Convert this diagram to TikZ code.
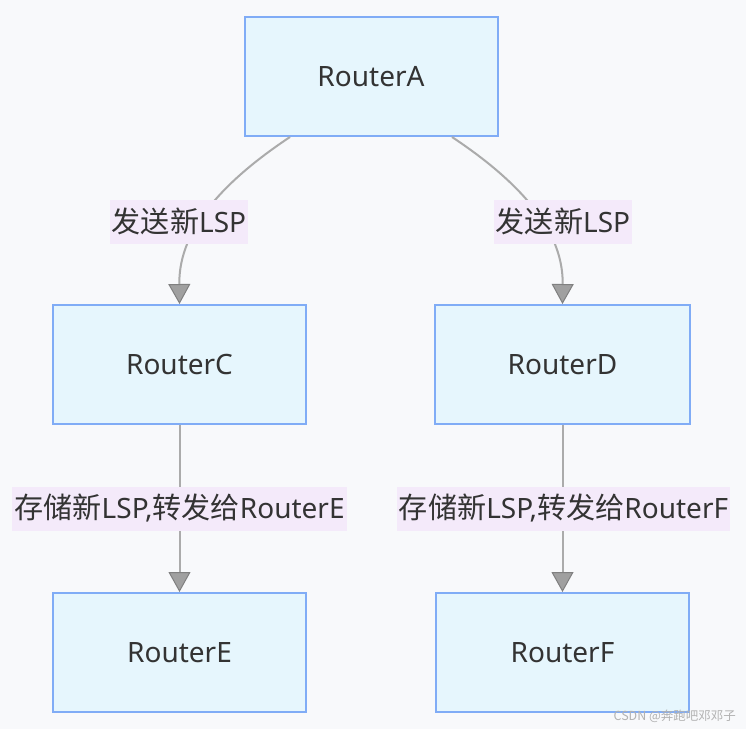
\documentclass[tikz,border=0pt]{standalone}
\usepackage{fontspec}
\setmainfont{Noto Sans}
\newfontfamily\cjk[Scale=1.04]{Noto Sans CJK SC}
\usetikzlibrary{arrows.meta}
\definecolor{bgc}{HTML}{F8F9FB}
\definecolor{boxfill}{HTML}{E6F6FD}
\definecolor{boxdraw}{HTML}{80ACF6}
\definecolor{labfill}{HTML}{F4EAFA}
\definecolor{edgec}{HTML}{ABABAB}
\definecolor{headc}{HTML}{A0A0A0}
\definecolor{txt}{HTML}{333333}
\tikzset{
  router/.style={draw=boxdraw, fill=boxfill, line width=2pt, minimum width=253pt, minimum height=119pt, inner sep=0pt, text=txt, font=\fontsize{28}{33}\selectfont},
  elabel/.style={fill=labfill, inner xsep=2pt, inner ysep=0pt, minimum height=44pt, text=txt, font=\fontsize{28}{33}\selectfont},
  conn/.style={draw=edgec, line width=2pt, -{Triangle[width=22pt,length=20pt,fill=headc,color=headc!80!black, line width=1pt]}},
}
\begin{document}
\begin{tikzpicture}[x=1pt,y=-1pt]
\fill[bgc] (0,0) rectangle (746,729);
\useasboundingbox (0,0) rectangle (746,729);
\node[router] (A) at (371,76.5) {RouterA};
\node[router] (C) at (179.5,364.5) {RouterC};
\node[router, minimum width=255pt] (D) at (562.5,364.5) {RouterD};
\node[router] (E) at (179.5,652.5) {RouterE};
\node[router] (F) at (562.5,652.5) {RouterF};
\draw[conn] (A.south) ++(-81,0) coordinate (a1) .. controls (195,200) and (179,250) .. (C.north);
\draw[conn] (A.south) ++(81,0) coordinate (a2) .. controls (547,200) and (563,250) .. (D.north);
\draw[conn] (C.south) -- (E.north);
\draw[conn] (D.south) -- (F.north);
\node[elabel] (l1) at (179,221.5) {{\cjk 发送新}LSP};
\node[elabel] (l2) at (563,221.5) {{\cjk 发送新}LSP};
\node[elabel] (l3) at (179.5,508.5) {{\cjk 存储新}LSP,{\cjk 转发给}RouterE};
\node[elabel] (l4) at (563.5,508.5) {{\cjk 存储新}LSP,{\cjk 转发给}RouterF};
\node[text=black!30, font=\cjk\fontsize{12}{14}\selectfont, anchor=east, inner sep=0pt] (wm) at (736,716) {CSDN @奔跑吧邓邓子};
\end{tikzpicture}
\end{document}
